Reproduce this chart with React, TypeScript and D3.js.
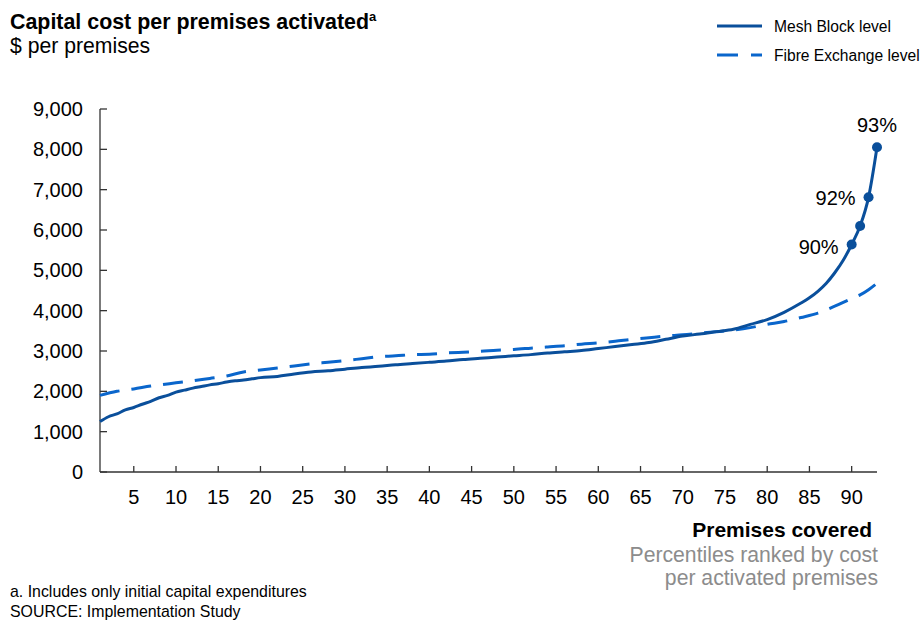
import React from "react";
import * as d3 from "d3";

const meshX = [1,2,3,4,5,6,7,8,9,10,11,12,13,14,15,16,17,18,19,20,22,24,26,28,30,32,34,36,38,40,42,44,46,48,50,52,54,56,58,60,62,64,66,68,70,72,74,76,78,80,82,84,85,86,87,88,89,90,91,92,93];
const meshY = [1250,1370,1440,1540,1600,1680,1750,1840,1900,1980,2030,2080,2120,2160,2190,2230,2260,2280,2310,2340,2370,2430,2480,2510,2550,2590,2620,2660,2690,2720,2750,2790,2820,2850,2880,2910,2950,2980,3010,3060,3110,3160,3210,3290,3370,3420,3480,3540,3660,3780,3960,4190,4320,4480,4680,4940,5250,5640,6100,6810,8050];
const fibreX = [1,3,5,7,10,12,14,16,18,20,22,24,26,28,30,32,34,36,38,40,42,44,46,48,50,52,54,56,58,60,62,64,66,68,70,72,74,76,78,80,82,84,86,88,90,91,92,93];
const fibreY = [1900,2000,2060,2130,2210,2260,2320,2380,2480,2530,2580,2630,2680,2720,2760,2810,2860,2880,2910,2920,2950,2970,2990,3020,3040,3070,3100,3130,3170,3200,3240,3290,3330,3370,3400,3440,3480,3520,3580,3660,3730,3830,3940,4110,4300,4390,4520,4680];
const markedX = [90, 91, 92, 93];
const markedY = [5640, 6100, 6810, 8050];
const markLabels = [
  { x: 93, y: 8050, text: "93%", anchor: "middle", dx: 0, dy: -15 },
  { x: 92, y: 6810, text: "92%", anchor: "end", dx: -13, dy: 8 },
  { x: 90, y: 5640, text: "90%", anchor: "end", dx: -13, dy: 9 },
];
const yTicks = [0,1000,2000,3000,4000,5000,6000,7000,8000,9000];
const xTicks = [5,10,15,20,25,30,35,40,45,50,55,60,65,70,75,80,85,90];

const FONT = "'Liberation Sans', Arial, sans-serif";
const MESH = "#0a4f9b";
const FIBRE = "#0a66cc";

export default function App() {
  const x = d3.scaleLinear().domain([1, 93]).range([100, 877]);
  const y = d3.scaleLinear().domain([0, 9000]).range([472, 109]);
  const fmt = d3.format(",");
  const line = d3
    .line<[number, number]>()
    .x((d) => x(d[0]))
    .y((d) => y(d[1]))
    .curve(d3.curveMonotoneX);
  const meshPts = meshX.map((v, i) => [v, meshY[i]] as [number, number]);
  const fibrePts = fibreX.map((v, i) => [v, fibreY[i]] as [number, number]);

  return (
    <svg
      width={922}
      height={622}
      style={{ position: "absolute", left: 0, top: 0, background: "#fff" }}
      fontFamily={FONT}
    >
      {/* Title */}
      <text x={10} y={29} fontSize={21.4} fontWeight="bold" fill="#000">
        Capital cost per premises activated
        <tspan fontSize={13} dy={-8}>a</tspan>
      </text>
      <text x={10} y={53} fontSize={21.2} fill="#000">$ per premises</text>

      {/* Legend */}
      <line x1={717} x2={762} y1={26} y2={26} stroke={MESH} strokeWidth={3} />
      <text x={774} y={32} fontSize={15.6} fill="#000">Mesh Block level</text>
      <line x1={717} x2={762} y1={55} y2={55} stroke={FIBRE} strokeWidth={3} strokeDasharray="21,13" />
      <text x={774} y={61} fontSize={15.6} fill="#000">Fibre Exchange level</text>

      {/* Y axis */}
      <line x1={100} x2={100} y1={y(9000)} y2={y(0)} stroke="#333" strokeWidth={1.3} />
      {yTicks.map((t) => (
        <g key={t}>
          <line x1={100} x2={107} y1={y(t)} y2={y(t)} stroke="#333" strokeWidth={1.3} />
          <text x={83} y={y(t) + 7} fontSize={20} textAnchor="end" fill="#000">
            {fmt(t)}
          </text>
        </g>
      ))}

      {/* X axis */}
      <line x1={100} x2={877} y1={y(0)} y2={y(0)} stroke="#333" strokeWidth={1.3} />
      {xTicks.map((t) => (
        <g key={t}>
          <line x1={x(t)} x2={x(t)} y1={y(0)} y2={y(0) - 6} stroke="#333" strokeWidth={1.3} />
          <text x={x(t)} y={504} fontSize={20} textAnchor="middle" fill="#000">
            {t}
          </text>
        </g>
      ))}

      {/* Series */}
      <path d={line(fibrePts) || ""} fill="none" stroke={FIBRE} strokeWidth={3} strokeDasharray="20,12" />
      <path d={line(meshPts) || ""} fill="none" stroke={MESH} strokeWidth={3} />
      {markedX.map((v, i) => (
        <circle key={v} cx={x(v)} cy={y(markedY[i])} r={5} fill={MESH} />
      ))}
      {markLabels.map((m) => (
        <text
          key={m.text}
          x={x(m.x) + m.dx}
          y={y(m.y) + m.dy}
          fontSize={20}
          textAnchor={m.anchor as any}
          fill="#000"
        >
          {m.text}
        </text>
      ))}

      {/* Axis titles */}
      <text x={872} y={537} fontSize={21} fontWeight="bold" textAnchor="end" fill="#000">
        Premises covered
      </text>
      <text x={878} y={562} fontSize={21.2} textAnchor="end" fill="#8c8c8c">
        Percentiles ranked by cost
      </text>
      <text x={878} y={585} fontSize={21.2} textAnchor="end" fill="#8c8c8c">
        per activated premises
      </text>

      {/* Footnotes */}
      <text x={10} y={597} fontSize={15.9} fill="#000">a. Includes only initial capital expenditures</text>
      <text x={10} y={617} fontSize={15.9} fill="#000">SOURCE: Implementation Study</text>
    </svg>
  );
}
